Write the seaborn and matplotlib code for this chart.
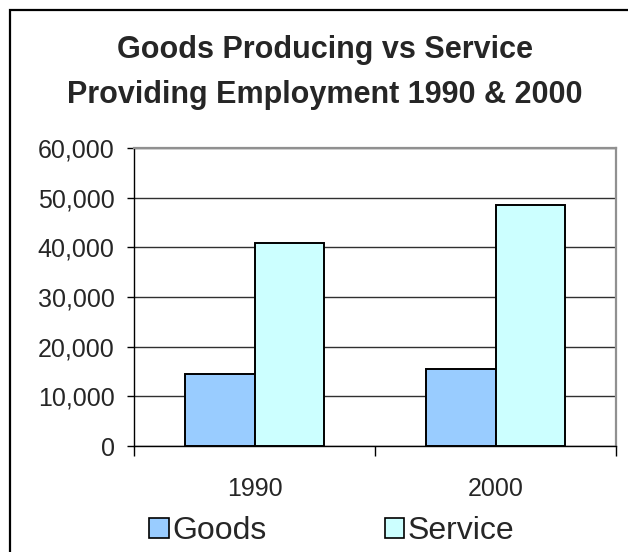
import matplotlib
matplotlib.use("Agg")
import matplotlib.pyplot as plt
import matplotlib.ticker as mticker
from matplotlib.patches import Rectangle
import pandas as pd
import seaborn as sns

years = ["1990", "2000"]
series = ["Goods", "Service"]
goods = [14400, 15600]
service = [40800, 48500]
y_ticks = [0, 10000, 20000, 30000, 40000, 50000, 60000]
title_lines = ["Goods Producing vs Service", "Providing Employment 1990 & 2000"]
colors = {"Goods": "#99CCFF", "Service": "#CCFFFF"}

df = pd.DataFrame({
    "year": years * 2,
    "series": [series[0]] * len(years) + [series[1]] * len(years),
    "value": goods + service,
})

sns.set_style("white")
plt.rcParams["font.family"] = ["Liberation Sans", "DejaVu Sans"]

fig = plt.figure(figsize=(6.28, 5.52), dpi=100)
W, H = 628, 552
ax = fig.add_axes([134 / W, 1 - 446 / H, (616 - 134) / W, (446 - 148) / H])

sns.barplot(data=df, x="year", y="value", hue="series", order=years,
            hue_order=series, palette=colors, saturation=1, width=0.58, gap=0,
            edgecolor="black", linewidth=1.4, ax=ax, legend=False,
            errorbar=None, zorder=3)

ax.set_xlim(-0.5, 1.5)
ax.set_ylim(y_ticks[0], y_ticks[-1])
ax.set_yticks(y_ticks)
ax.yaxis.set_major_formatter(mticker.StrMethodFormatter("{x:,.0f}"))
ax.set_xlabel("")
ax.set_ylabel("")

ax.grid(axis="y", color="#303030", linewidth=1.0, zorder=0)
ax.set_axisbelow(True)

for side in ["left", "bottom"]:
    ax.spines[side].set_color("black")
    ax.spines[side].set_linewidth(1.0)
for side in ["top", "right"]:
    ax.spines[side].set_color("#909090")
    ax.spines[side].set_linewidth(1.6)

ax.tick_params(axis="y", which="major", left=True, length=5, width=1.0,
               color="black", labelsize=18, pad=9, direction="out")
ax.set_xticks([-0.5, 0.5, 1.5], minor=True)
ax.tick_params(axis="x", which="minor", bottom=True, length=7, width=1.0,
               color="black", direction="out")
ax.tick_params(axis="x", which="major", bottom=True, length=0,
               labelsize=18, pad=22)

# title, two centred lines
fig.text(325 / W, 1 - 58 / H, title_lines[0], ha="center", va="baseline",
         fontsize=22, fontweight="bold")
fig.text(325 / W, 1 - 103 / H, title_lines[1], ha="center", va="baseline",
         fontsize=22, fontweight="bold")

handles = [Rectangle((0, 0), 1, 1, facecolor=colors[s], edgecolor="black",
                     linewidth=1.2) for s in series]
fig.legend(handles, series, loc="center", bbox_to_anchor=(332 / W, 1 - 531 / H),
           ncol=2, frameon=False, fontsize=23, handlelength=0.6,
           handleheight=0.6, handletextpad=0.12, columnspacing=3.7,
           borderaxespad=0, borderpad=0)

# outer chart frame
fig.patches.append(Rectangle((10 / W, -0.1), 1.2, 1 - 10 / H + 0.1,
                             transform=fig.transFigure, fill=False,
                             edgecolor="black", linewidth=1.6))

fig.savefig("out.png", dpi=100)
